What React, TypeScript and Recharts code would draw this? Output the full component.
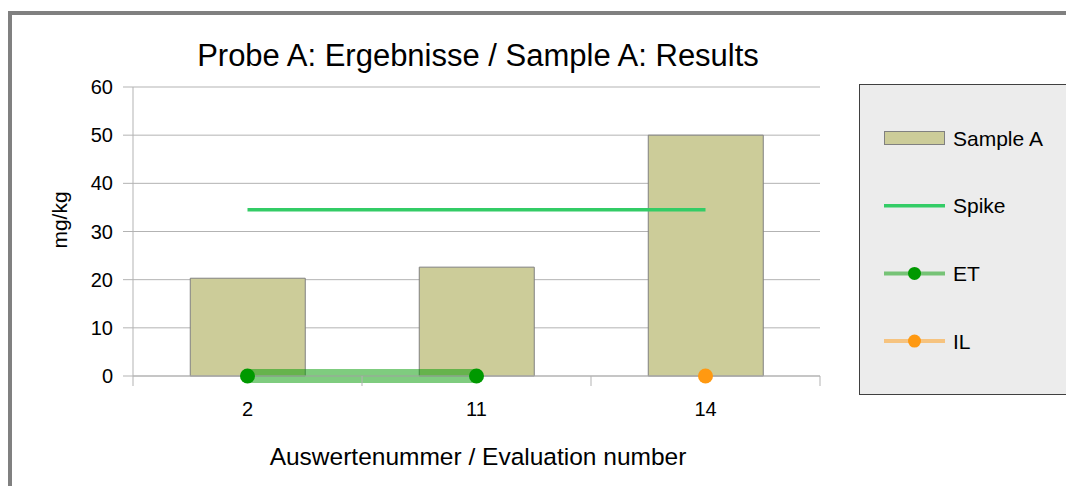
import React from 'react';
import { ComposedChart, Bar, Line, XAxis, YAxis, CartesianGrid, Legend } from 'recharts';

const categories = ['2', '11', '14'];
const sampleA = [20.3, 22.6, 50];
const spike = [34.5, 34.5, 34.5];
const et = [0, 0, null];
const il = [null, null, 0];
const yTicks = [0, 10, 20, 30, 40, 50, 60];

const legendItems = [
  { name: 'Sample A', kind: 'bar', color: '#cccc99' },
  { name: 'Spike', kind: 'line', color: '#33cc66' },
  { name: 'ET', kind: 'dot', color: '#009900' },
  { name: 'IL', kind: 'dot', color: '#ff9911' },
];

const data = categories.map((name, i) => ({
  name,
  sampleA: sampleA[i],
  spike: spike[i],
  et: et[i],
  il: il[i],
}));

const FONT = '"Liberation Sans", Arial, sans-serif';
const GRID = '#b3b3b3';

// tick marks sit on the category borders, labels in the middle
const CategoryTick = (props: any) => {
  const { x, y, payload } = props;
  const half = payload.offset ?? 0;
  const last = payload.value === categories[categories.length - 1];
  return (
    <g>
      <line x1={x - half} x2={x - half} y1={y} y2={y + 10} stroke={GRID} />
      {last && <line x1={x + half} x2={x + half} y1={y} y2={y + 10} stroke={GRID} />}
      <text x={x} y={y + 40} textAnchor="middle" fontSize={20} fontFamily={FONT} fill="#000">
        {payload.value}
      </text>
    </g>
  );
};

const renderLegend = () => (
  <svg width={210} height={311} style={{ display: 'block' }}>
    <rect x={0.5} y={0.5} width={209} height={310} fill="#ececec" stroke="#404040" />
    {legendItems.map((item, i) => {
      const cy = 54 + i * 67.7;
      return (
        <g key={item.name}>
          {item.kind === 'bar' && (
            <rect x={25.5} y={cy - 6.5} width={60} height={13} fill={item.color} stroke="#808080" />
          )}
          {item.kind === 'line' && (
            <line x1={25} x2={86} y1={cy} y2={cy} stroke={item.color} strokeWidth={3.5} />
          )}
          {item.kind === 'dot' && (
            <g>
              <line x1={25} x2={86} y1={cy} y2={cy} stroke={item.color} strokeOpacity={0.5} strokeWidth={4} />
              <circle cx={55.5} cy={cy} r={6.5} fill={item.color} />
            </g>
          )}
          <text x={94} y={cy + 7.5} fontSize={21} fontFamily={FONT} fill="#000">
            {item.name}
          </text>
        </g>
      );
    })}
  </svg>
);

export default function App() {
  return (
    <div style={{ position: 'relative', width: 1066, height: 478, overflow: 'hidden', fontFamily: FONT }}>
      <div
        style={{
          position: 'absolute',
          left: 0,
          top: 3,
          width: 1200,
          height: 600,
          borderTop: '4px solid #808080',
          borderLeft: '4px solid #808080',
        }}
      />
      <div style={{ position: 'absolute', left: 0, top: 0 }}>
        <ComposedChart
          width={1066}
          height={478}
          data={data}
          margin={{ top: 79, right: 254, bottom: 50, left: 0 }}
          barCategoryGap="25%"
        >
          <CartesianGrid vertical={false} stroke={GRID} />
          <XAxis
            dataKey="name"
            height={60}
            tickLine={false}
            tickSize={0}
            tickMargin={0}
            axisLine={{ stroke: GRID }}
            tick={<CategoryTick />}
            interval={0}
          />
          <YAxis
            domain={[0, 60]}
            ticks={yTicks}
            width={125}
            tickSize={10}
            tickMargin={10}
            axisLine={{ stroke: GRID }}
            tickLine={{ stroke: GRID }}
            tick={{ fontSize: 20, fill: '#000', fontFamily: FONT }}
          />
          <YAxis
            yAxisId="right"
            orientation="right"
            domain={[0, 60]}
            width={0}
            tick={false}
            tickLine={false}
            axisLine={{ stroke: GRID }}
          />
          <Legend
            layout="vertical"
            align="center"
            verticalAlign="middle"
            wrapperStyle={{ left: 851, top: 76, width: 210, height: 311 }}
            content={renderLegend}
          />
          <Bar dataKey="sampleA" fill="#cccc99" stroke="#808080" strokeWidth={1} isAnimationActive={false} />
          <Line dataKey="spike" stroke="#33cc66" strokeWidth={3.5} dot={false} isAnimationActive={false} />
          <Line
            dataKey="et"
            stroke="#009900"
            strokeOpacity={0.5}
            strokeWidth={14}
            dot={{ r: 7.5, fill: '#009900', stroke: 'none' }}
            activeDot={false}
            isAnimationActive={false}
          />
          <Line
            dataKey="il"
            stroke="#ff9900"
            strokeOpacity={0.5}
            strokeWidth={14}
            dot={{ r: 7.5, fill: '#ff9911', stroke: 'none' }}
            activeDot={false}
            isAnimationActive={false}
          />
        </ComposedChart>
      </div>
      <svg
        width={1066}
        height={478}
        style={{ position: 'absolute', left: 0, top: 0, pointerEvents: 'none' }}
      >
        <text x={470} y={58} textAnchor="middle" fontSize={31} fontFamily={FONT} fill="#000">
          Probe A: Ergebnisse / Sample A: Results
        </text>
        <text
          x={59}
          y={212}
          textAnchor="middle"
          fontSize={21}
          fontFamily={FONT}
          fill="#000"
          transform="rotate(-90 59 212)"
        >
          mg/kg
        </text>
        <text x={470} y={457} textAnchor="middle" fontSize={24.5} fontFamily={FONT} fill="#000">
          Auswertenummer / Evaluation number
        </text>
      </svg>
    </div>
  );
}
